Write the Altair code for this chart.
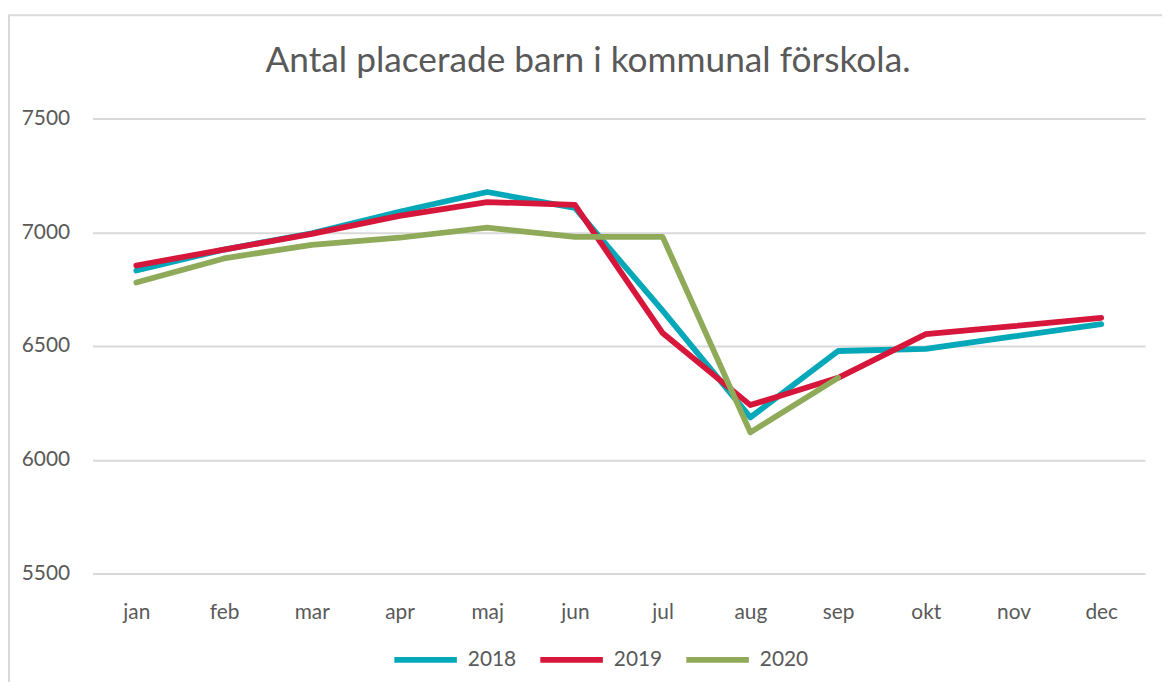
import altair as alt
import pandas as pd

months = ["jan", "feb", "mar", "apr", "maj", "jun", "jul", "aug", "sep", "okt", "nov", "dec"]
v2018 = [6832, 6924, 6995, 7090, 7177, 7107, 6655, 6186, 6478, 6487, 6542, 6596]
v2019 = [6854, 6924, 6993, 7072, 7133, 7120, 6557, 6240, 6360, 6552, 6587, 6624]
v2020 = [6779, 6885, 6945, 6976, 7020, 6980, 6980, 6120, 6360]
years = ["2018", "2019", "2020"]
colors = ["#05A8B8", "#D6173B", "#8FAB5A"]
title_text = "Antal placerade barn i kommunal förskola."

rows = []
for yr, vals in zip(years, [v2018, v2019, v2020]):
    for m, v in zip(months, vals):
        rows.append({"month": m, "year": yr, "value": v})
df = pd.DataFrame(rows)

FONT = "Lato"
GREY = "#595959"

lines = alt.Chart(df).mark_line(strokeWidth=5.8, strokeCap="round", strokeJoin="round").encode(
    x=alt.X("month:N", sort=months, title=None,
            scale=alt.Scale(type="point", padding=0.5),
            axis=alt.Axis(labelAngle=0, domain=False, ticks=False, grid=False,
                          labelPadding=28, labelFontSize=21, labelColor=GREY, labelFont=FONT)),
    y=alt.Y("value:Q", title=None,
            scale=alt.Scale(domain=[5500, 7500], nice=False, zero=False),
            axis=alt.Axis(values=[5500, 6000, 6500, 7000, 7500], format="d",
                          domain=False, ticks=False,
                          gridColor="#D9D9D9", gridWidth=2, labelPadding=23,
                          labelFontSize=21, labelColor=GREY, labelFont=FONT)),
    color=alt.Color("year:N", scale=alt.Scale(domain=years, range=colors),
                    legend=alt.Legend(title=None, orient="none", direction="horizontal",
                                      legendX=301, legendY=510,
                                      symbolType="stroke", symbolSize=3969,
                                      symbolStrokeWidth=5.8, labelFontSize=21,
                                      labelColor=GREY, labelFont=FONT, labelOffset=8,
                                      columnPadding=12)),
    order=alt.Order("year:N"),
)

border = alt.Chart(alt.Data(values=[{"a": 1}])).mark_rect(
    filled=False, stroke="#D9D9D9", strokeWidth=2
).encode(
    x=alt.value(-84), x2=alt.value(1200), y=alt.value(-104), y2=alt.value(700)
)

title = alt.Chart(alt.Data(values=[{"t": title_text}])).mark_text(
    font=FONT, fontSize=35.5, color=GREY, align="center", baseline="alphabetic"
).encode(
    text="t:N", x=alt.value(499), y=alt.value(-47)
)

chart = alt.layer(border, title, lines).properties(
    width=1060,
    height=458,
    autosize="none",
    padding={"left": 85, "top": 109, "right": 17, "bottom": 107},
).configure_view(stroke=None)

chart.save("out.html", embed_options={"renderer": "svg", "actions": False})
